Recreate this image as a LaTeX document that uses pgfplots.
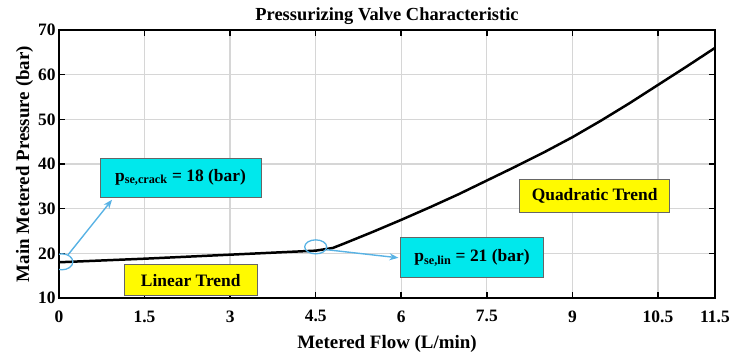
\documentclass[border=0pt]{standalone}
\usepackage{fontspec}
\setmainfont{Liberation Serif}
\usepackage{pgfplots}
\pgfplotsset{compat=1.18}
\usetikzlibrary{arrows.meta}

\definecolor{boxcyan}{RGB}{0,232,236}
\definecolor{arrowblue}{RGB}{88,178,228}
\definecolor{boxyellow}{RGB}{255,250,0}

\begin{document}
\begin{tikzpicture}
\begin{axis}[
    scale only axis,
    width=656bp, height=268bp,
    xmin=0, xmax=11.5, ymin=10, ymax=70,
    xtick={0,1.5,3,4.5,6,7.5,9,10.5,11.5},
    xticklabels={0,1.5,3,4.5,6,7.5,9,10.5,11.5},
    ytick={10,20,30,40,50,60,70},
    tick pos=both, tick align=inside,
    major tick length=6bp,
    every tick/.style={black, line width=1.6pt},
    axis line style={black, line width=1.8pt},
    grid=major,
    major grid style={black!16, line width=1.3pt},
    ticklabel style={font=\bfseries\fontsize{17.5}{20}\selectfont},
    xticklabel style={yshift=-9bp},
    /pgf/number format/assume math mode=true,
    title={Pressurizing Valve Characteristic},
    title style={font=\bfseries\fontsize{18.5}{21}\selectfont, yshift=-4bp},
    xlabel={Metered Flow (L/min)},
    ylabel={Main Metered Pressure (bar)},
    label style={font=\bfseries\fontsize{19}{21}\selectfont},
    xlabel style={yshift=-6bp},
    ylabel style={yshift=-2bp},
]
% pressure vs flow
\addplot[black, line width=2.5pt] coordinates {
    (0,18.0) (1.5,18.8) (3,19.7) (4.5,20.6) (4.8,21.2)
    (5.0,22.2) (5.5,24.8) (6.0,27.5) (6.5,30.3) (7.0,33.2)
    (7.5,36.3) (8.0,39.4) (8.5,42.6) (9.0,46.0) (9.5,49.7)
    (10.0,53.6) (10.5,57.7) (11.0,61.8) (11.5,66.0)
};

% markers for the two pressures
\draw[arrowblue, line width=1.3pt] (axis cs:0.05,18.1) ellipse [x radius=11bp, y radius=8bp];
\draw[arrowblue, line width=1.3pt] (axis cs:4.5,21.45) ellipse [x radius=11bp, y radius=7bp];
\draw[arrowblue, line width=1.4pt, -{Stealth[length=9bp, width=7bp]}]
    (axis cs:0.16,19.7) -- (axis cs:0.93,32.0);
\draw[arrowblue, line width=1.4pt, -{Stealth[length=9bp, width=7bp]}]
    (axis cs:4.70,20.8) -- (axis cs:5.95,19.0);

% text boxes
\node[fill=boxcyan, draw=black!60, line width=0.8pt, minimum width=161bp, minimum height=39bp,
      inner sep=0pt, font=\bfseries\fontsize{17.5}{20}\selectfont]
    at (axis cs:2.13,37.0) {p\textsubscript{se,crack} = 18 (bar)};
\node[fill=boxcyan, draw=black!60, line width=0.8pt, minimum width=143bp, minimum height=40bp,
      inner sep=0pt, font=\bfseries\fontsize{17.5}{20}\selectfont]
    at (axis cs:7.24,19.0) {p\textsubscript{se,lin} = 21 (bar)};
\node[fill=boxyellow, draw=black!60, line width=0.8pt, minimum width=133bp, minimum height=31bp,
      inner sep=0pt, font=\bfseries\fontsize{17.5}{20}\selectfont]
    at (axis cs:2.31,13.95) {Linear Trend};
\node[fill=boxyellow, draw=black!60, line width=0.8pt, minimum width=150bp, minimum height=33bp,
      inner sep=0pt, font=\bfseries\fontsize{17.5}{20}\selectfont]
    at (axis cs:9.39,32.8) {Quadratic Trend};
\end{axis}
\pgfresetboundingbox
\path[use as bounding box] ([shift={(-59bp,-55bp)}]current axis.south west)
    rectangle ([shift={(16bp,30bp)}]current axis.north east);
\end{tikzpicture}
\end{document}
